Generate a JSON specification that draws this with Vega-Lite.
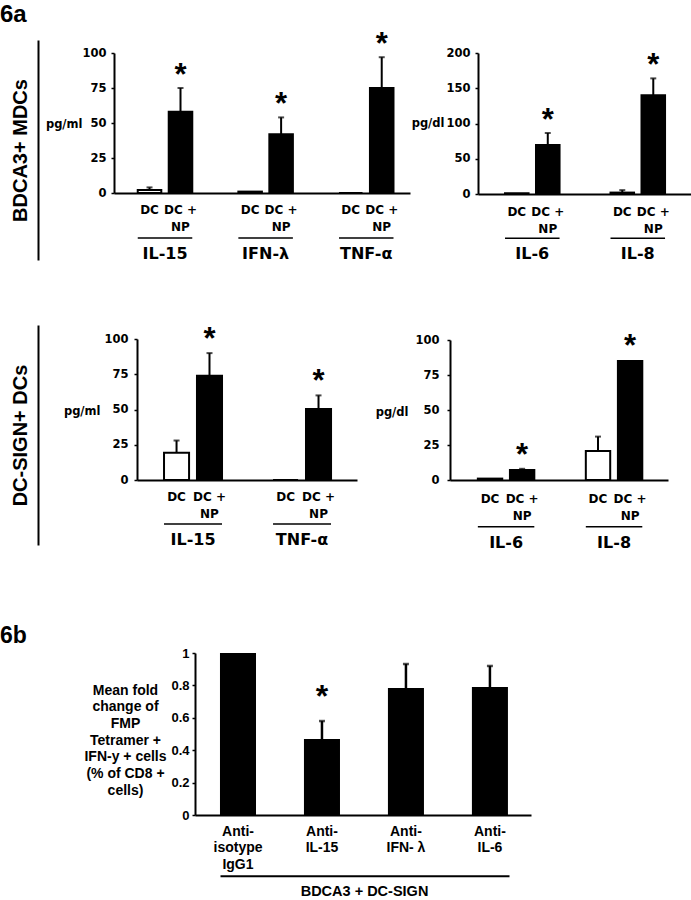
{
  "$schema": "https://vega.github.io/schema/vega-lite/v6.json",
  "width": 691,
  "height": 900,
  "autosize": {"type": "none"},
  "padding": 0,
  "background": "white",
  "config": {
    "view": {"stroke": null},
    "font": "Liberation Sans",
    "axis": {"grid": false, "domainColor": "black", "tickColor": "black", "labelColor": "black", "titleColor": "black", "labelFontWeight": "bold", "titleFontWeight": "bold"}
  },
  "datasets": {
    "p1": [
      {"cyt": "IL-15", "cond": "DC", "value": 2.2, "err": 4},
      {"cyt": "IL-15", "cond": "DC +\nNP", "value": 58, "err": 75, "sig": "*"},
      {"cyt": "IFN-λ", "cond": "DC", "value": 1},
      {"cyt": "IFN-λ", "cond": "DC +\nNP", "value": 42, "err": 54, "sig": "*"},
      {"cyt": "TNF-α", "cond": "DC", "value": 0},
      {"cyt": "TNF-α", "cond": "DC +\nNP", "value": 75, "err": 97, "sig": "*"}
    ],
    "p2": [
      {"cyt": "IL-6", "cond": "DC", "value": 1},
      {"cyt": "IL-6", "cond": "DC +\nNP", "value": 69.5, "err": 86.5, "sig": "*"},
      {"cyt": "IL-8", "cond": "DC", "value": 2, "err": 5.5},
      {"cyt": "IL-8", "cond": "DC +\nNP", "value": 140, "err": 164, "sig": "*"}
    ],
    "p3": [
      {"cyt": "IL-15", "cond": "DC", "value": 19.4, "err": 28},
      {"cyt": "IL-15", "cond": "DC +\nNP", "value": 74, "err": 90, "sig": "*"},
      {"cyt": "TNF-α", "cond": "DC", "value": 0},
      {"cyt": "TNF-α", "cond": "DC +\nNP", "value": 50.4, "err": 60, "sig": "*"}
    ],
    "p4": [
      {"cyt": "IL-6", "cond": "DC", "value": 1},
      {"cyt": "IL-6", "cond": "DC +\nNP", "value": 7.2, "err": 8, "sig": "*"},
      {"cyt": "IL-8", "cond": "DC", "value": 20.7, "err": 31},
      {"cyt": "IL-8", "cond": "DC +\nNP", "value": 85, "sig": "*"}
    ],
    "p5": [
      {"ab": "Anti-\nisotype\nIgG1", "value": 1},
      {"ab": "Anti-\nIL-15", "value": 0.469, "err": 0.58, "sig": "*"},
      {"ab": "Anti-\nIFN- λ", "value": 0.784, "err": 0.932},
      {"ab": "Anti-\nIL-6", "value": 0.79, "err": 0.92}
    ],
    "panels": [{"panel": "6a"}, {"panel": "6b"}],
    "rows": [{"cells": "BDCA3+ MDCs"}, {"cells": "DC-SIGN+ DCs"}]
  },
  "resolve": {
    "scale": {"x": "independent", "y": "independent", "xOffset": "independent", "size": "independent"},
    "axis": {"x": "independent", "y": "independent"}
  },
  "layer": [
    {
      "data": {"name": "panels"},
      "mark": {"type": "text", "align": "left", "baseline": "alphabetic", "fontWeight": "bold", "font": "Liberation Sans"},
      "encoding": {
        "x": {"field": "panel", "type": "nominal", "scale": {"type": "point", "range": [0, 0]}, "axis": null},
        "y": {"field": "panel", "type": "nominal", "scale": {"type": "point", "range": [22, 643], "padding": 0}, "axis": null},
        "size": {"field": "panel", "type": "ordinal", "scale": {"domain": ["6a", "6b"], "range": [24, 23]}, "legend": null},
        "text": {"field": "panel"}
      }
    },
    {
      "data": {"name": "rows"},
      "transform": [{"filter": "datum.cells == 'BDCA3+ MDCs'"}],
      "mark": {"type": "rule", "opacity": 0},
      "encoding": {
        "y": {"datum": 0, "type": "quantitative", "scale": {"domain": [0, 1], "range": [260, 40]},
          "axis": {"orient": "left", "offset": -38, "labels": false, "ticks": false, "domainWidth": 2, "title": "BDCA3+ MDCs", "titleFont": "Liberation Sans", "titleFontSize": 20, "titleAngle": -90, "titleAlign": "center", "titleBaseline": "alphabetic", "titleX": -12, "titleY": 150}}
      }
    },
    {
      "data": {"name": "rows"},
      "transform": [{"filter": "datum.cells == 'DC-SIGN+ DCs'"}],
      "mark": {"type": "rule", "opacity": 0},
      "encoding": {
        "y": {"datum": 0, "type": "quantitative", "scale": {"domain": [0, 1], "range": [545, 325]},
          "axis": {"orient": "left", "offset": -38, "labels": false, "ticks": false, "domainWidth": 2, "title": "DC-SIGN+ DCs", "titleFont": "Liberation Sans", "titleFontSize": 20, "titleAngle": -90, "titleAlign": "center", "titleBaseline": "alphabetic", "titleX": -12, "titleY": 435}}
      }
    },
    {
      "data": {"name": "p1"},
      "encoding": {
        "x": {"field": "cyt", "type": "nominal", "sort": null, "scale": {"range": [114, 410], "paddingInner": 0.458, "paddingOuter": 0.2, "align": 0.59},
          "axis": {"orient": "bottom", "offset": -707, "title": null, "ticks": false, "labelPadding": 52, "labelFont": "DejaVu Sans", "labelFontSize": 16, "labelAngle": 0, "domainWidth": 2}}
      },
      "layer": [
        {
          "mark": {"type": "bar", "stroke": "black", "strokeWidth": 2},
          "encoding": {
            "xOffset": {"field": "cond", "type": "nominal", "sort": null, "scale": {"paddingInner": 0.24, "paddingOuter": 0}},
            "y": {"field": "value", "type": "quantitative", "scale": {"domain": [0, 100], "range": [193, 53]},
              "axis": {"orient": "left", "offset": -114, "values": [0, 25, 50, 75, 100], "title": "pg/ml", "titleAngle": 0, "titleAlign": "right", "titleBaseline": "middle", "titleX": -32, "titleY": 124, "titleFont": "DejaVu Sans", "titleFontSize": 11.5, "labelFont": "DejaVu Sans", "labelFontSize": 11.5, "tickSize": 3, "tickWidth": 1.5, "labelPadding": 5, "domainWidth": 2}},
            "fill": {"field": "cond", "type": "nominal", "scale": {"domain": ["DC", "DC +\nNP"], "range": ["white", "black"]}, "legend": null}
          }
        },
        {
          "transform": [{"filter": "isValid(datum.err)"}],
          "mark": {"type": "rule", "strokeWidth": 2, "color": "black"},
          "encoding": {
            "xOffset": {"field": "cond", "type": "nominal", "sort": null},
            "y": {"field": "value", "type": "quantitative"},
            "y2": {"field": "err"}
          }
        },
        {
          "transform": [{"filter": "isValid(datum.err)"}],
          "mark": {"type": "tick", "orient": "horizontal", "size": 6, "thickness": 2, "color": "black"},
          "encoding": {
            "xOffset": {"field": "cond", "type": "nominal", "sort": null},
            "y": {"field": "err", "type": "quantitative"}
          }
        },
        {
          "transform": [{"filter": "datum.sig == '*' && isValid(datum.err)"}],
          "mark": {"type": "text", "baseline": "alphabetic", "dy": -3.5, "fontSize": 31, "fontWeight": "bold", "font": "Liberation Sans", "color": "black"},
          "encoding": {
            "xOffset": {"field": "cond", "type": "nominal", "sort": null},
            "y": {"field": "err", "type": "quantitative"},
            "text": {"field": "sig"}
          }
        },
        {
          "mark": {"type": "text", "baseline": "top", "dy": 12, "lineBreak": "\n", "lineHeight": 17, "font": "DejaVu Sans", "fontWeight": "bold", "fontSize": 12, "color": "black"},
          "encoding": {
            "xOffset": {"field": "cond", "type": "nominal", "sort": null},
            "y": {"datum": 0, "type": "quantitative"},
            "text": {"field": "cond"}
          }
        },
        {
          "transform": [{"filter": "datum.cond == 'DC'"}],
          "mark": {"type": "rule", "strokeWidth": 1.5, "color": "black"},
          "encoding": {
            "x": {"field": "cyt", "type": "nominal", "sort": null, "bandPosition": 0},
            "x2": {"field": "cyt", "bandPosition": 1},
            "y": {"datum": -32.1, "type": "quantitative"}
          }
        }
      ]
    },
    {
      "data": {"name": "p2"},
      "encoding": {
        "x": {"field": "cyt", "type": "nominal", "sort": null, "scale": {"range": [478, 691], "paddingInner": 0.483, "paddingOuter": 0.251, "align": 0.51},
          "axis": {"orient": "bottom", "offset": -706, "title": null, "ticks": false, "labelPadding": 51, "labelFont": "DejaVu Sans", "labelFontSize": 16, "labelAngle": 0, "domainWidth": 2}}
      },
      "layer": [
        {
          "mark": {"type": "bar", "stroke": "black", "strokeWidth": 2},
          "encoding": {
            "xOffset": {"field": "cond", "type": "nominal", "sort": null, "scale": {"paddingInner": 0.24, "paddingOuter": 0}},
            "y": {"field": "value", "type": "quantitative", "scale": {"domain": [0, 200], "range": [194, 53]},
              "axis": {"orient": "left", "offset": -478, "values": [0, 50, 100, 150, 200], "title": "pg/dl", "titleAngle": 0, "titleAlign": "right", "titleBaseline": "middle", "titleX": -34, "titleY": 123.5, "titleFont": "DejaVu Sans", "titleFontSize": 11.5, "labelFont": "DejaVu Sans", "labelFontSize": 11.5, "tickSize": 3, "tickWidth": 1.5, "labelPadding": 5, "domainWidth": 2}},
            "fill": {"field": "cond", "type": "nominal", "scale": {"domain": ["DC", "DC +\nNP"], "range": ["white", "black"]}, "legend": null}
          }
        },
        {
          "transform": [{"filter": "isValid(datum.err)"}],
          "mark": {"type": "rule", "strokeWidth": 2, "color": "black"},
          "encoding": {
            "xOffset": {"field": "cond", "type": "nominal", "sort": null},
            "y": {"field": "value", "type": "quantitative"},
            "y2": {"field": "err"}
          }
        },
        {
          "transform": [{"filter": "isValid(datum.err)"}],
          "mark": {"type": "tick", "orient": "horizontal", "size": 6, "thickness": 2, "color": "black"},
          "encoding": {
            "xOffset": {"field": "cond", "type": "nominal", "sort": null},
            "y": {"field": "err", "type": "quantitative"}
          }
        },
        {
          "transform": [{"filter": "datum.sig == '*' && isValid(datum.err)"}],
          "mark": {"type": "text", "baseline": "alphabetic", "dy": -3, "fontSize": 31, "fontWeight": "bold", "font": "Liberation Sans", "color": "black"},
          "encoding": {
            "xOffset": {"field": "cond", "type": "nominal", "sort": null},
            "y": {"field": "err", "type": "quantitative"},
            "text": {"field": "sig"}
          }
        },
        {
          "mark": {"type": "text", "baseline": "top", "dy": 12.5, "lineBreak": "\n", "lineHeight": 17, "font": "DejaVu Sans", "fontWeight": "bold", "fontSize": 12, "color": "black"},
          "encoding": {
            "xOffset": {"field": "cond", "type": "nominal", "sort": null},
            "y": {"datum": 0, "type": "quantitative"},
            "text": {"field": "cond"}
          }
        },
        {
          "transform": [{"filter": "datum.cond == 'DC'"}],
          "mark": {"type": "rule", "strokeWidth": 1.5, "color": "black"},
          "encoding": {
            "x": {"field": "cyt", "type": "nominal", "sort": null, "bandPosition": 0},
            "x2": {"field": "cyt", "bandPosition": 1},
            "y": {"datum": -62.8, "type": "quantitative"}
          }
        }
      ]
    },
    {
      "data": {"name": "p3"},
      "encoding": {
        "x": {"field": "cyt", "type": "nominal", "sort": null, "scale": {"range": [137, 357], "paddingInner": 0.468, "paddingOuter": 0.243, "align": 0.51},
          "axis": {"orient": "bottom", "offset": -420, "title": null, "ticks": false, "labelPadding": 51, "labelFont": "DejaVu Sans", "labelFontSize": 16, "labelAngle": 0, "domainWidth": 2}}
      },
      "layer": [
        {
          "mark": {"type": "bar", "stroke": "black", "strokeWidth": 2},
          "encoding": {
            "xOffset": {"field": "cond", "type": "nominal", "sort": null, "scale": {"paddingInner": 0.24, "paddingOuter": 0}},
            "y": {"field": "value", "type": "quantitative", "scale": {"domain": [0, 100], "range": [480, 339]},
              "axis": {"orient": "left", "offset": -137, "values": [0, 25, 50, 75, 100], "title": "pg/ml", "titleAngle": 0, "titleAlign": "right", "titleBaseline": "middle", "titleX": -37, "titleY": 411, "titleFont": "DejaVu Sans", "titleFontSize": 11.5, "labelFont": "DejaVu Sans", "labelFontSize": 11.5, "tickSize": 3, "tickWidth": 1.5, "labelPadding": 6, "domainWidth": 2}},
            "fill": {"field": "cond", "type": "nominal", "scale": {"domain": ["DC", "DC +\nNP"], "range": ["white", "black"]}, "legend": null}
          }
        },
        {
          "transform": [{"filter": "isValid(datum.err)"}],
          "mark": {"type": "rule", "strokeWidth": 2, "color": "black"},
          "encoding": {
            "xOffset": {"field": "cond", "type": "nominal", "sort": null},
            "y": {"field": "value", "type": "quantitative"},
            "y2": {"field": "err"}
          }
        },
        {
          "transform": [{"filter": "isValid(datum.err)"}],
          "mark": {"type": "tick", "orient": "horizontal", "size": 6, "thickness": 2, "color": "black"},
          "encoding": {
            "xOffset": {"field": "cond", "type": "nominal", "sort": null},
            "y": {"field": "err", "type": "quantitative"}
          }
        },
        {
          "transform": [{"filter": "datum.sig == '*' && isValid(datum.err)"}],
          "mark": {"type": "text", "baseline": "alphabetic", "dy": -4.5, "fontSize": 31, "fontWeight": "bold", "font": "Liberation Sans", "color": "black"},
          "encoding": {
            "xOffset": {"field": "cond", "type": "nominal", "sort": null},
            "y": {"field": "err", "type": "quantitative"},
            "text": {"field": "sig"}
          }
        },
        {
          "mark": {"type": "text", "baseline": "top", "dy": 12, "lineBreak": "\n", "lineHeight": 17, "font": "DejaVu Sans", "fontWeight": "bold", "fontSize": 12, "color": "black"},
          "encoding": {
            "xOffset": {"field": "cond", "type": "nominal", "sort": null},
            "y": {"datum": 0, "type": "quantitative"},
            "text": {"field": "cond"}
          }
        },
        {
          "transform": [{"filter": "datum.cond == 'DC'"}],
          "mark": {"type": "rule", "strokeWidth": 1.5, "color": "black"},
          "encoding": {
            "x": {"field": "cyt", "type": "nominal", "sort": null, "bandPosition": 0},
            "x2": {"field": "cyt", "bandPosition": 1},
            "y": {"datum": -31.2, "type": "quantitative"}
          }
        }
      ]
    },
    {
      "data": {"name": "p4"},
      "encoding": {
        "x": {"field": "cyt", "type": "nominal", "sort": null, "scale": {"range": [450, 668], "paddingInner": 0.477, "paddingOuter": 0.248, "align": 0.52},
          "axis": {"orient": "bottom", "offset": -420, "title": null, "ticks": false, "labelPadding": 54, "labelFont": "DejaVu Sans", "labelFontSize": 16, "labelAngle": 0, "domainWidth": 2}}
      },
      "layer": [
        {
          "mark": {"type": "bar", "stroke": "black", "strokeWidth": 2},
          "encoding": {
            "xOffset": {"field": "cond", "type": "nominal", "sort": null, "scale": {"paddingInner": 0.24, "paddingOuter": 0}},
            "y": {"field": "value", "type": "quantitative", "scale": {"domain": [0, 100], "range": [480, 340]},
              "axis": {"orient": "left", "offset": -450, "values": [0, 25, 50, 75, 100], "title": "pg/dl", "titleAngle": 0, "titleAlign": "right", "titleBaseline": "middle", "titleX": -42, "titleY": 412, "titleFont": "DejaVu Sans", "titleFontSize": 11.5, "labelFont": "DejaVu Sans", "labelFontSize": 11.5, "tickSize": 3, "tickWidth": 1.5, "labelPadding": 8, "domainWidth": 2}},
            "fill": {"field": "cond", "type": "nominal", "scale": {"domain": ["DC", "DC +\nNP"], "range": ["white", "black"]}, "legend": null}
          }
        },
        {
          "transform": [{"filter": "isValid(datum.err)"}],
          "mark": {"type": "rule", "strokeWidth": 2, "color": "black"},
          "encoding": {
            "xOffset": {"field": "cond", "type": "nominal", "sort": null},
            "y": {"field": "value", "type": "quantitative"},
            "y2": {"field": "err"}
          }
        },
        {
          "transform": [{"filter": "isValid(datum.err)"}],
          "mark": {"type": "tick", "orient": "horizontal", "size": 6, "thickness": 2, "color": "black"},
          "encoding": {
            "xOffset": {"field": "cond", "type": "nominal", "sort": null},
            "y": {"field": "err", "type": "quantitative"}
          }
        },
        {
          "transform": [{"filter": "datum.sig == '*' && isValid(datum.err)"}],
          "mark": {"type": "text", "baseline": "alphabetic", "dy": -4, "fontSize": 31, "fontWeight": "bold", "font": "Liberation Sans", "color": "black"},
          "encoding": {
            "xOffset": {"field": "cond", "type": "nominal", "sort": null},
            "y": {"field": "err", "type": "quantitative"},
            "text": {"field": "sig"}
          }
        },
        {
          "transform": [{"filter": "datum.sig == '*' && !isValid(datum.err)"}],
          "mark": {"type": "text", "baseline": "alphabetic", "dy": -5.5, "fontSize": 31, "fontWeight": "bold", "font": "Liberation Sans", "color": "black"},
          "encoding": {
            "xOffset": {"field": "cond", "type": "nominal", "sort": null},
            "y": {"field": "value", "type": "quantitative"},
            "text": {"field": "sig"}
          }
        },
        {
          "mark": {"type": "text", "baseline": "top", "dy": 13.5, "lineBreak": "\n", "lineHeight": 17, "font": "DejaVu Sans", "fontWeight": "bold", "fontSize": 12, "color": "black"},
          "encoding": {
            "xOffset": {"field": "cond", "type": "nominal", "sort": null},
            "y": {"datum": 0, "type": "quantitative"},
            "text": {"field": "cond"}
          }
        },
        {
          "transform": [{"filter": "datum.cond == 'DC'"}],
          "mark": {"type": "rule", "strokeWidth": 1.5, "color": "black"},
          "encoding": {
            "x": {"field": "cyt", "type": "nominal", "sort": null, "bandPosition": 0},
            "x2": {"field": "cyt", "bandPosition": 1},
            "y": {"datum": -33.4, "type": "quantitative"}
          }
        }
      ]
    },
    {
      "data": {"name": "p5"},
      "encoding": {
        "x": {"field": "ab", "type": "nominal", "sort": null, "scale": {"range": [195, 531], "paddingInner": 0.571, "paddingOuter": 0.286, "align": 0.52},
          "axis": {"orient": "bottom", "offset": -85, "title": null, "ticks": false, "labelPadding": 9, "labelFont": "Liberation Sans", "labelFontSize": 14, "labelLineHeight": 16.7, "labelAngle": 0, "labelExpr": "split(datum.label, '\\n')", "domainWidth": 2}}
      },
      "layer": [
        {
          "mark": {"type": "bar", "color": "black"},
          "encoding": {
            "y": {"field": "value", "type": "quantitative", "scale": {"domain": [0, 1], "range": [815, 653]},
              "axis": {"orient": "left", "offset": -195, "values": [0, 0.2, 0.4, 0.6, 0.8, 1], "format": "~g",
                "title": ["Mean fold", "change of", "FMP", "Tetramer +", "IFN-y + cells", "(% of CD8 +", "cells)"],
                "titleAngle": 0, "titleAlign": "center", "titleBaseline": "top", "titleX": -70, "titleY": 683, "titleFont": "Liberation Sans", "titleFontSize": 14, "titleLineHeight": 16.7,
                "labelFont": "Liberation Sans", "labelFontSize": 13, "tickSize": 3, "tickWidth": 1.5, "labelPadding": 3, "domainWidth": 2}}
          }
        },
        {
          "transform": [{"filter": "isValid(datum.err)"}],
          "mark": {"type": "rule", "strokeWidth": 2.5, "color": "black"},
          "encoding": {
            "y": {"field": "value", "type": "quantitative"},
            "y2": {"field": "err"}
          }
        },
        {
          "transform": [{"filter": "isValid(datum.err)"}],
          "mark": {"type": "tick", "orient": "horizontal", "size": 6, "thickness": 2.5, "color": "black"},
          "encoding": {
            "y": {"field": "err", "type": "quantitative"}
          }
        },
        {
          "transform": [{"filter": "datum.sig == '*' && isValid(datum.err)"}],
          "mark": {"type": "text", "baseline": "alphabetic", "dy": -14, "fontSize": 32, "fontWeight": "bold", "font": "Liberation Sans", "color": "black"},
          "encoding": {
            "y": {"field": "err", "type": "quantitative"},
            "text": {"field": "sig"}
          }
        }
      ]
    },
    {
      "data": {"values": [{"grp": "BDCA3 + DC-SIGN"}]},
      "mark": {"type": "rule", "opacity": 0},
      "encoding": {
        "x": {"field": "grp", "type": "nominal", "scale": {"range": [220, 509], "paddingInner": 0, "paddingOuter": 0},
          "axis": {"orient": "bottom", "offset": -24.3, "title": null, "ticks": false, "labelPadding": 9, "labelFont": "Liberation Sans", "labelFontSize": 14.5, "labelAngle": 0, "domainWidth": 2}}
      }
    }
  ]
}
